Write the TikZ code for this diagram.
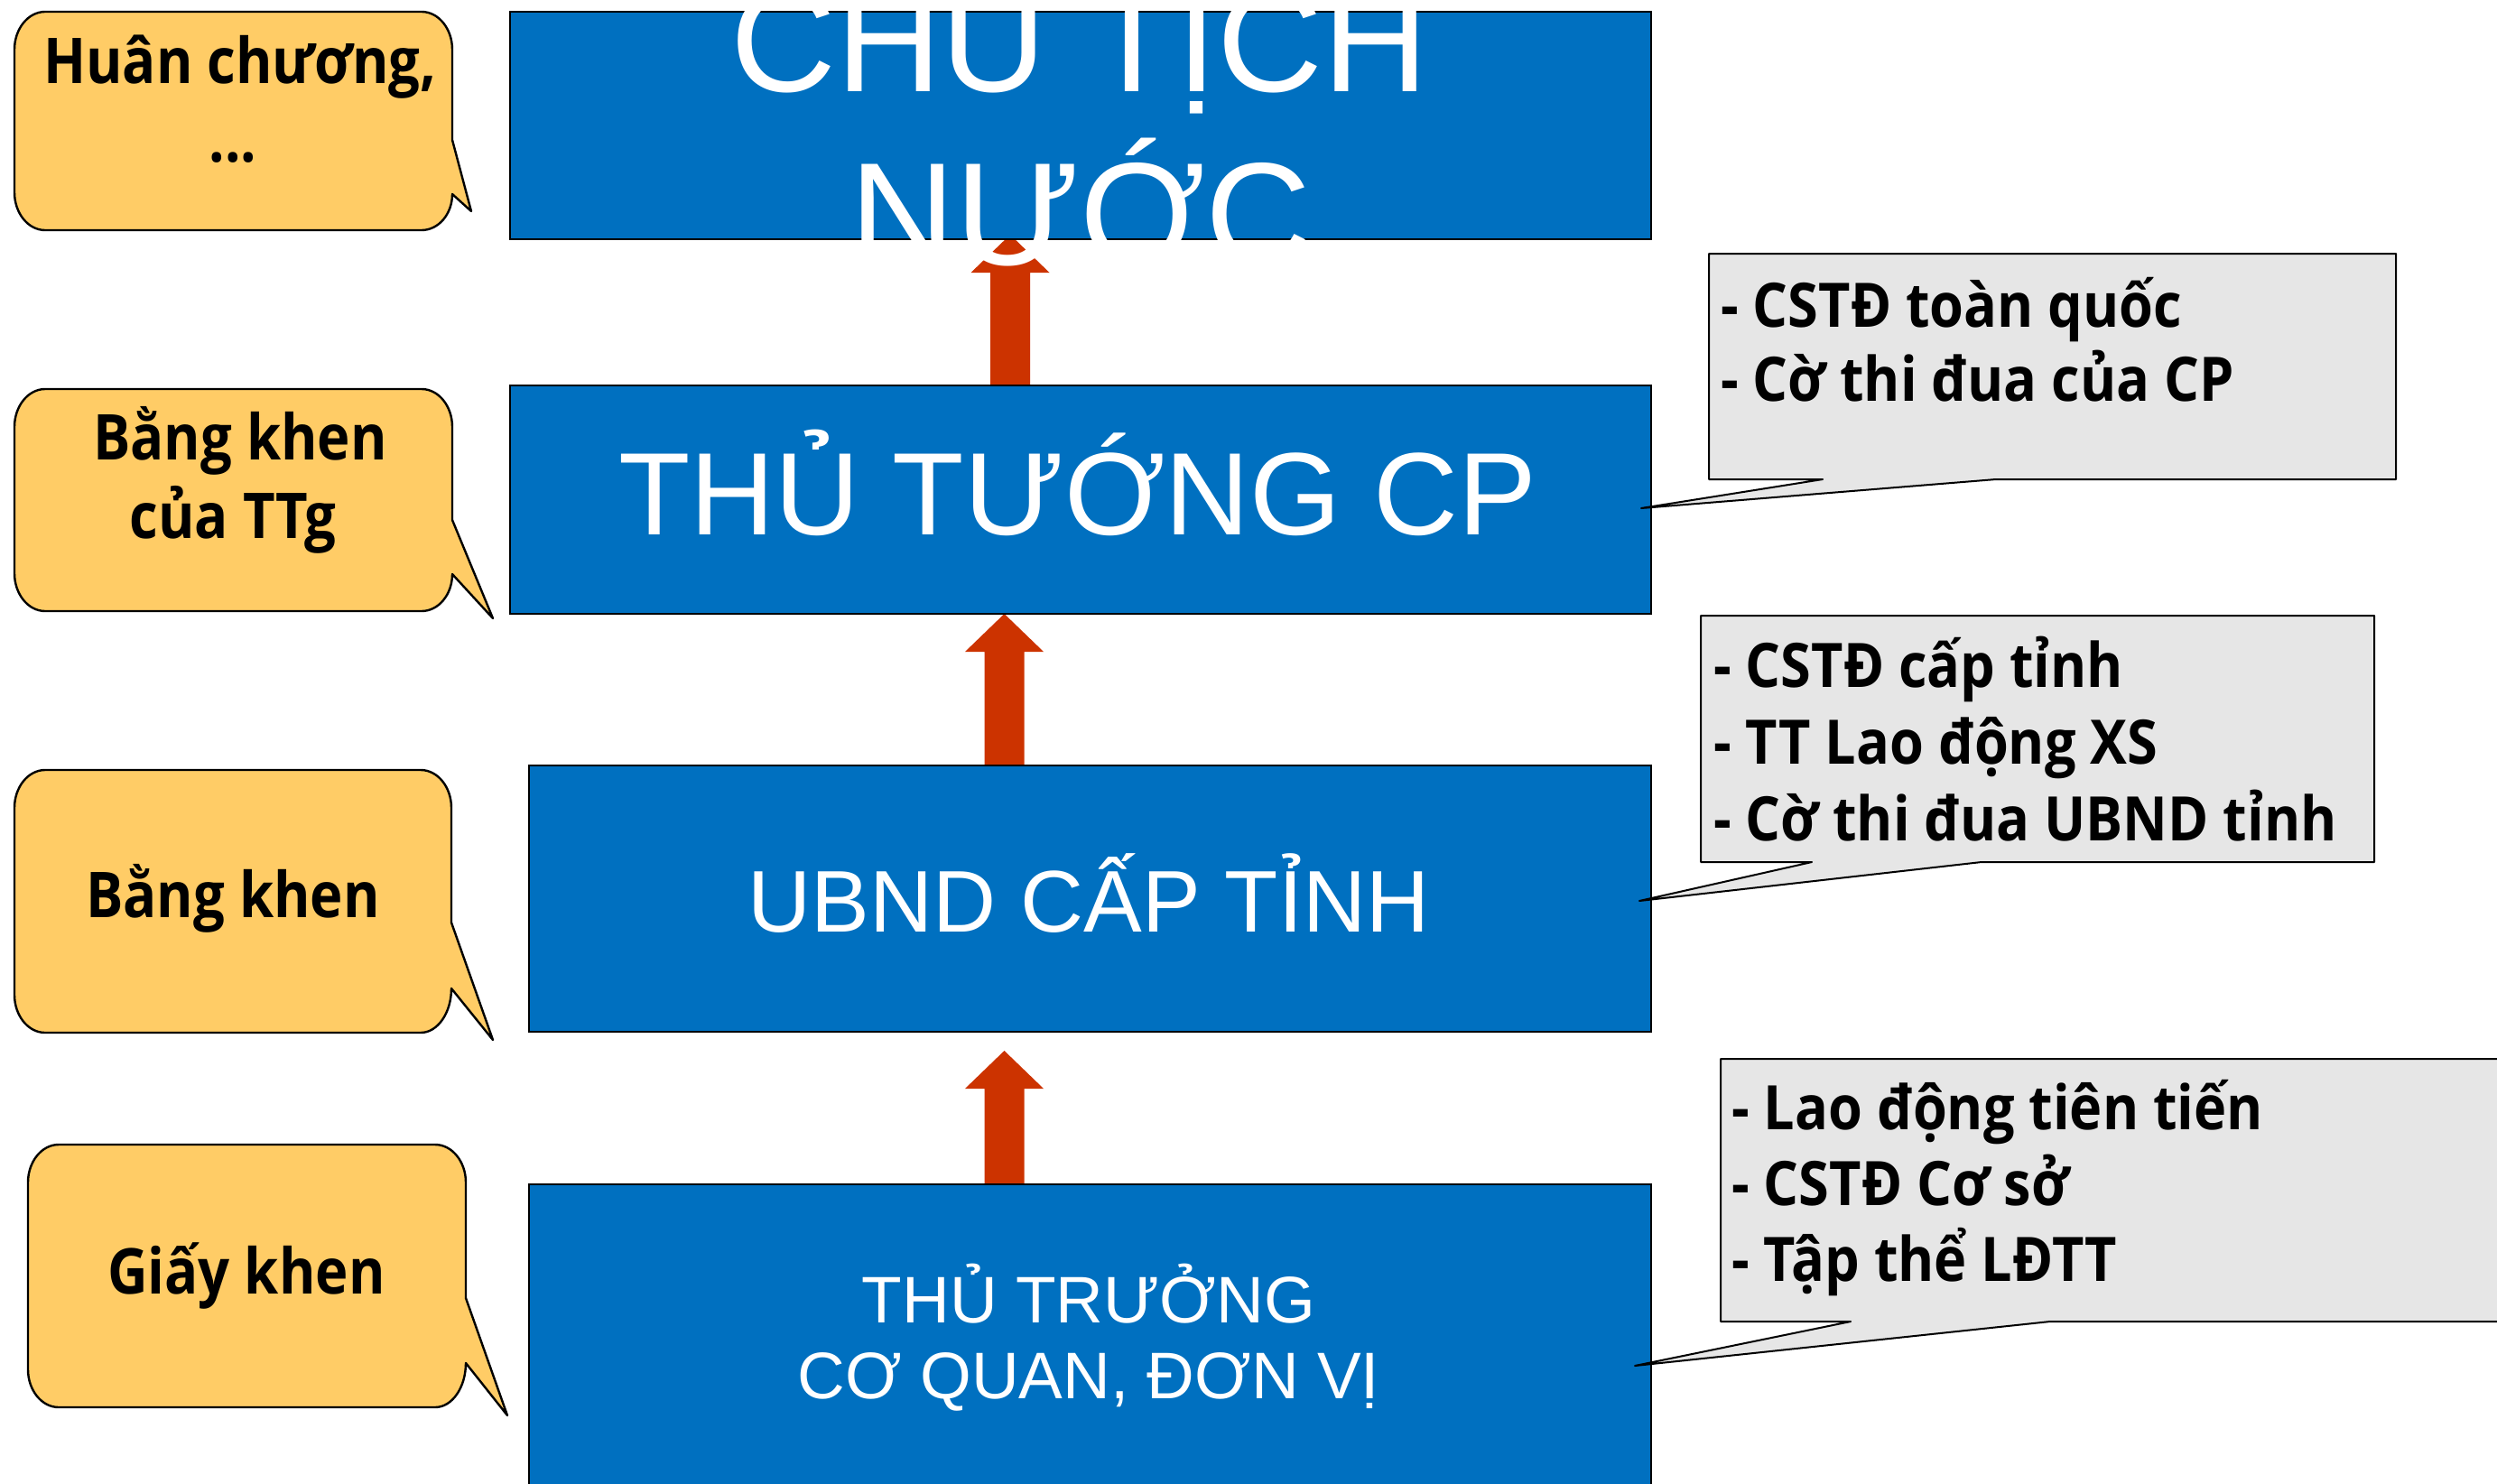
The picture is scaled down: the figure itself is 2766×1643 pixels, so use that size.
\documentclass[tikz,border=0pt]{standalone}
\usepackage{fontspec}
\setmainfont{Liberation Sans}
\newfontfamily\callfont[FakeStretch=0.9]{Open Sans}
\newfontfamily\leftfont[FakeStretch=0.88]{Open Sans}
\usetikzlibrary{calc,backgrounds}
\definecolor{boxblue}{HTML}{0070C0}
\definecolor{arrowred}{HTML}{CC3300}
\definecolor{callorange}{HTML}{FFCC66}
\definecolor{callgray}{HTML}{E6E6E6}
\tikzset{
 bluebox/.style={draw=black, line width=1pt, fill=boxblue, inner sep=0pt, outer sep=0pt},
 boxtext/.style={text=white, inner sep=0pt, anchor=base},
 orangecall/.style={draw=black, line width=1.2pt, fill=callorange, line join=round},
 graycall/.style={draw=black, line width=1pt, fill=callgray, line join=round},
 calltext/.style={inner sep=0pt, anchor=base, font=\leftfont\bfseries\fontsize{35}{42}\selectfont},
 graytext/.style={inner sep=0pt, anchor=base west, font=\callfont\bfseries\fontsize{34}{42}\selectfont},
 uparrow/.style={fill=arrowred, draw=none},
}
% l, t, r, b, tail start y, tip x, tip y, return y, bottom-right y radius
\newcommand\orangeballoon[9]{%
 \draw[orangecall] ({#1+34},#2) -- ({#3-34},#2)
   arc[start angle=90,end angle=0,x radius=17pt,y radius=21pt]
   -- (#3,#5) -- (#6,#7) -- (#3,#8)
   arc[start angle=0,end angle=-90,x radius=17pt,y radius=#9]
   -- ({#1+34},#4)
   arc[start angle=-90,end angle=-180,x radius=17pt,y radius=21pt]
   -- (#1,{#2+42})
   arc[start angle=180,end angle=90,x radius=17pt,y radius=21pt] -- cycle;}
% l, t, r, b, tail right x, tip x, tip y, tail left x
\newcommand\grayballoon[8]{%
 \draw[graycall] (#1,#2) -- (#3,#2) -- (#3,#4) -- (#5,#4) -- (#6,#7) -- (#8,#4) -- (#1,#4) -- cycle;}
% shaft start, tip
\newcommand\uparr[2]{%
 \fill[uparrow] let \p1=(#1), \p2=(#2) in
   (\x1-11pt,\y1) -- (\x1-11pt,\y2-21pt) -- (\x1-21.75pt,\y2-21pt) -- (\x2,\y2)
   -- (\x1+21.75pt,\y2-21pt) -- (\x1+11pt,\y2-21pt) -- (\x1+11pt,\y1) -- cycle;}
\begin{document}
\begin{tikzpicture}[x=0.5pt,y=-0.5pt]
\useasboundingbox (0,0) rectangle (2766,1643);
\clip (0,0) rectangle (2766,1643);

% blue boxes
\node[bluebox, minimum width=632pt, minimum height=126pt] (b1) at (1197,139) {};
\node[bluebox, minimum width=632pt, minimum height=126.5pt] (b2) at (1197,553.5) {};
\node[bluebox, minimum width=621.5pt, minimum height=147.5pt] (b3) at (1207.5,995.5) {};
\node[bluebox, minimum width=621.5pt, minimum height=194pt] (b4) at (1207.5,1506) {};

% arrows
\coordinate (a1) at (1119,0);
\coordinate (a2) at (1112.5,0);
\begin{pgfonlayer}{background}
\uparr{b2.north -| a1}{$(b1.south -| a1)+(0,-5)$}
\uparr{b3.north -| a2}{b2.south -| a2}
\uparr{b4.north -| a2}{$(b3.south -| a2)+(0,21)$}
\end{pgfonlayer}

% box texts
\node[boxtext, font=\fontsize{81}{92}\selectfont] (t1a) at (1196,102) {CHỦ TỊCH};
\node[boxtext, font=\fontsize{81}{92}\selectfont] (t1b) at (1197,293) {NƯỚC};
\node[boxtext, font=\fontsize{65}{75}\selectfont] (t2) at (1194,592) {THỦ TƯỚNG CP};
\node[boxtext, font=\fontsize{48.5}{56}\selectfont] (t3) at (1206,1032) {UBND CẤP TỈNH};
\node[boxtext, font=\fontsize{36.5}{44}\selectfont] (t4a) at (1206,1465) {THỦ TRƯỞNG};
\node[boxtext, font=\fontsize{36.5}{44}\selectfont] (t4b) at (1206,1549) {CƠ QUAN, ĐƠN VỊ};

% left balloons
\orangeballoon{16}{13}{501}{255}{155}{522}{234}{215}{20pt}
\orangeballoon{16}{431}{501}{677}{576}{546}{685}{636}{20.5pt}
\orangeballoon{16}{853}{500}{1144}{1022}{546}{1152}{1095}{24.5pt}
\orangeballoon{31}{1268}{516}{1559}{1438}{562}{1568}{1510}{24.5pt}
\node[calltext] (l1a) at (266,93) {Huân chương,};
\node[calltext] (l1b) at (258,179) {...};
\node[calltext] (l2a) at (266,509) {Bằng khen};
\node[calltext] (l2b) at (258,596) {của TTg};
\node[calltext] (l3) at (258,1016) {Bằng khen};
\node[calltext] (l4) at (273,1433) {Giấy khen};

% right balloons
\grayballoon{1893}{281}{2654}{531}{2211}{1818}{563}{2019}
\grayballoon{1884}{682}{2630}{955}{2195}{1816}{998}{2007}
\grayballoon{1906}{1173}{2800}{1464}{2271}{1811}{1513}{2050}
\node[graytext] (r1a) at (1906,362) {- CSTĐ toàn quốc};
\node[graytext] (r1b) at (1906,444) {- Cờ thi đua của CP};
\node[graytext] (r2a) at (1898,761) {- CSTĐ cấp tỉnh};
\node[graytext] (r2b) at (1898,846) {- TT Lao động XS};
\node[graytext] (r2c) at (1898,931) {- Cờ thi đua UBND tỉnh};
\node[graytext] (r3a) at (1918,1251) {- Lao động tiên tiến};
\node[graytext] (r3b) at (1918,1335) {- CSTĐ Cơ sở};
\node[graytext] (r3c) at (1918,1419) {- Tập thể LĐTT};
\end{tikzpicture}
\end{document}
